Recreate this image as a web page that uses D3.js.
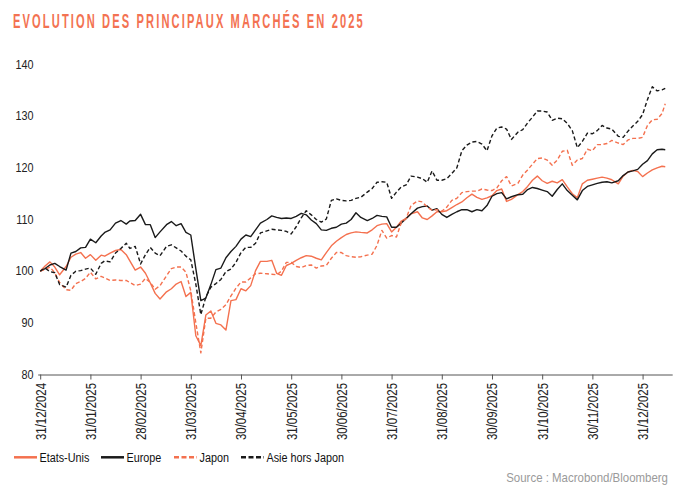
<!DOCTYPE html>
<html lang="fr">
<head>
<meta charset="UTF-8">
<title>Evolution des principaux marchés en 2025</title>
<script src="https://cdn.jsdelivr.net/npm/d3@7"></script>
<style>
  body { margin: 0; background: #fff; }
  #chart text { font-family: "Liberation Sans", Arial, sans-serif; }
</style>
</head>
<body>
<div id="chart"></div>
<script>
"use strict"

// dates of the sampled points (roughly every 3 days)
var dates = [
  "2024-12-31",
  "2025-01-03","2025-01-06","2025-01-09","2025-01-12","2025-01-16","2025-01-19","2025-01-22","2025-01-25","2025-01-28","2025-01-31",
  "2025-02-03","2025-02-06","2025-02-08","2025-02-11","2025-02-14","2025-02-17","2025-02-20","2025-02-22","2025-02-25","2025-02-28",
  "2025-03-03","2025-03-06","2025-03-09","2025-03-12","2025-03-16","2025-03-19","2025-03-22","2025-03-25","2025-03-28","2025-03-31",
  "2025-04-03","2025-04-06","2025-04-09","2025-04-12","2025-04-15","2025-04-18","2025-04-21","2025-04-24","2025-04-27","2025-04-30",
  "2025-05-03","2025-05-06","2025-05-09","2025-05-12","2025-05-16","2025-05-19","2025-05-22","2025-05-25","2025-05-28","2025-05-31",
  "2025-06-03","2025-06-06","2025-06-09","2025-06-12","2025-06-15","2025-06-18","2025-06-21","2025-06-24","2025-06-27","2025-06-30",
  "2025-07-03","2025-07-06","2025-07-09","2025-07-12","2025-07-16","2025-07-19","2025-07-22","2025-07-25","2025-07-28","2025-07-31",
  "2025-08-03","2025-08-06","2025-08-09","2025-08-12","2025-08-16","2025-08-19","2025-08-22","2025-08-25","2025-08-28","2025-08-31",
  "2025-09-03","2025-09-06","2025-09-09","2025-09-12","2025-09-15","2025-09-18","2025-09-21","2025-09-24","2025-09-27","2025-09-30",
  "2025-10-03","2025-10-06","2025-10-09","2025-10-12","2025-10-16","2025-10-19","2025-10-22","2025-10-25","2025-10-28","2025-10-31",
  "2025-11-03","2025-11-06","2025-11-09","2025-11-12","2025-11-15","2025-11-18","2025-11-21","2025-11-24","2025-11-27","2025-11-30",
  "2025-12-03","2025-12-06","2025-12-09","2025-12-12","2025-12-16","2025-12-19","2025-12-22","2025-12-25","2025-12-28","2025-12-31",
  "2026-01-03","2026-01-06","2026-01-09","2026-01-12","2026-01-14"
];

var etatsUnis = [
  100,
  101.0, 101.8, 100.8, 99.3, 100.9, 102.7, 103.3, 103.6, 102.5, 103.2,
  102.1, 103.1, 102.9, 103.5, 104.0, 104.2, 103.2, 102.0, 100.2, 100.8,
  99.6, 97.7, 95.7, 94.6, 96.0, 96.6, 97.5, 98.0, 95.1, 95.9,
  87.5, 85.6, 91.5, 92.3, 89.9, 89.6, 88.6, 94.3, 94.5, 96.6,
  96.2, 97.2, 100.1, 101.9, 101.9, 102.1, 99.6, 99.2, 101.1, 101.5,
  102.1, 102.6, 103.0, 102.9, 102.5, 102.2, 103.6, 104.9, 105.8, 106.5,
  107.1, 107.4, 107.6, 107.5, 107.4, 108.0, 108.8, 109.1, 109.2, 107.6,
  108.5, 109.7, 110.2, 111.1, 111.5, 110.3, 110.0, 110.7, 111.5, 111.5,
  111.7, 112.3, 112.9, 113.4, 114.2, 114.9, 114.3, 113.9, 114.2, 114.6,
  115.6, 115.9, 113.5, 113.9, 114.8, 115.4, 116.4, 117.6, 118.4, 117.5,
  117.0, 117.4, 117.1, 117.7, 116.3, 115.0, 114.2, 116.9, 117.6, 117.8,
  118.0, 118.2, 118.0, 117.7, 116.9, 118.4, 119.2, 119.5, 119.3, 118.3,
  119.0, 119.6, 120.0, 120.3, 120.2
];

var europe = [
  100,
  100.5, 101.2, 101.5, 100.9, 100.2, 103.5, 103.8, 104.5, 104.6, 106.2,
  105.5, 106.8, 107.5, 108.0, 109.3, 109.8, 109.1, 109.7, 109.8, 111.0,
  109.0, 109.0, 106.5, 107.6, 109.0, 109.6, 108.8, 109.2, 107.5, 107.0,
  100.5, 94.3, 94.8, 97.4, 100.3, 100.6, 102.6, 103.8, 104.8, 106.2,
  107.0, 106.7, 108.0, 109.3, 110.0, 110.7, 110.4, 110.2, 110.3, 110.2,
  110.6, 111.2, 110.9, 109.9, 109.2, 108.0, 107.9, 108.3, 108.5, 109.1,
  109.3, 110.0, 111.3, 110.4, 109.8, 110.2, 110.8, 110.6, 110.5, 108.5,
  108.5, 109.3, 110.2, 111.1, 112.2, 112.5, 112.6, 111.8, 112.1, 111.0,
  110.4, 111.0, 111.5, 111.9, 111.9, 111.5, 111.9, 111.7, 112.7, 114.5,
  115.0, 115.2, 114.0, 114.4, 114.8, 114.9, 115.8, 116.2, 116.0, 115.7,
  115.4, 114.5, 115.8, 116.9, 115.6, 114.7, 113.8, 115.6, 116.4, 116.7,
  117.0, 117.2, 117.3, 117.1, 117.5, 118.5, 119.2, 119.4, 119.7, 120.7,
  121.4, 122.7, 123.5, 123.6, 123.5
];

var japon = [
  100,
  100.3, 100.8, 99.7, 97.8, 96.4, 96.3, 97.6, 98.0, 98.6, 99.8,
  98.5, 99.0, 98.7, 98.2, 98.3, 98.2, 98.2, 97.8, 97.2, 97.5,
  98.6, 97.8, 96.5, 97.2, 99.1, 100.5, 100.8, 100.8, 99.8, 96.2,
  90.0, 84.2, 90.9, 90.9, 92.1, 92.6, 93.5, 95.2, 96.7, 97.9,
  97.9, 98.7, 99.5, 99.6, 99.5, 99.4, 99.3, 100.0, 101.7, 101.7,
  100.9, 100.7, 101.1, 101.2, 100.6, 101.0, 101.1, 102.5, 103.6, 103.6,
  103.0, 102.8, 102.7, 102.8, 103.1, 103.3, 105.0, 107.9, 106.4, 106.9,
  106.6, 109.4, 110.2, 112.7, 113.6, 113.4, 112.4, 111.8, 111.9, 111.6,
  112.4, 113.7, 114.1, 115.2, 115.4, 115.5, 115.5, 115.9, 115.7, 115.6,
  116.1, 117.5, 118.3, 116.5, 117.0, 118.6, 119.6, 120.7, 121.8, 121.9,
  121.5, 120.5, 121.5, 123.2, 123.4, 120.5, 121.5, 121.8, 123.6, 123.3,
  124.5, 124.5, 124.7, 125.3, 124.8, 124.5, 125.4, 125.7, 125.7, 125.9,
  128.2, 129.3, 129.4, 130.5, 132.4
];

var asieHorsJapon = [
  100,
  100.6, 99.9, 99.7, 97.4, 96.9, 99.2, 100.0, 100.1, 100.4, 100.6,
  99.4, 101.5, 102.0, 101.8, 103.5, 104.4, 105.4, 104.4, 104.8, 101.4,
  103.2, 104.6, 103.5, 103.0, 104.8, 105.1, 104.5, 103.9, 102.9, 102.2,
  97.5, 91.6, 95.0, 96.9, 97.6, 98.4, 99.9, 100.4, 101.7, 103.6,
  104.6, 104.6, 105.4, 107.4, 107.8, 108.1, 108.0, 107.9, 107.7, 107.2,
  108.6, 110.3, 111.7, 110.9, 110.0, 109.5, 110.1, 113.7, 114.0, 113.7,
  113.6, 113.7, 114.1, 114.3, 115.3, 116.0, 117.2, 117.3, 117.2, 114.1,
  115.3, 116.3, 116.7, 118.4, 118.2, 117.9, 117.2, 119.4, 117.6, 117.6,
  117.9, 118.9, 120.0, 123.3, 124.4, 125.0, 125.1, 124.6, 123.3, 126.2,
  127.7, 127.9, 127.5, 125.5, 126.9, 127.4, 128.7, 129.8, 131.0, 131.0,
  130.8, 129.2, 129.6, 129.5, 128.6, 127.2, 123.9, 125.1, 126.7, 126.6,
  127.2, 128.2, 127.7, 127.5, 126.1, 125.9, 127.1, 128.1, 129.0, 130.3,
  133.2, 135.7, 134.9, 135.1, 135.4
];

var tickLabels = ["31/12/2024", "31/01/2025", "28/02/2025", "31/03/2025", "30/04/2025", "31/05/2025",
  "30/06/2025", "31/07/2025", "31/08/2025", "30/09/2025", "31/10/2025", "30/11/2025", "31/12/2025"];
var yTicks = [80, 90, 100, 110, 120, 130, 140];

var orange = "#f4714f", noir = "#1a1a1a";

var series = [
  {nom: "Etats-Unis", valeurs: etatsUnis, cor: orange, dash: null},
  {nom: "Europe", valeurs: europe, cor: noir, dash: null},
  {nom: "Japon", valeurs: japon, cor: orange, dash: "4,2.5"},
  {nom: "Asie hors Japon", valeurs: asieHorsJapon, cor: noir, dash: "4,2.5"}
];

var width = 675, height = 488;
var parseDate = d3.timeParse("%Y-%m-%d");

// the axis is drawn in months: each month end is one unit
function monthIndex(d) {
  var nbDays = new Date(d.getFullYear(), d.getMonth() + 1, 0).getDate();
  return (d.getFullYear() - 2025) * 12 + d.getMonth() + d.getDate() / nbDays;
}

var x = d3.scaleLinear().domain([0, 12.6]).range([40.2, 672.7]);
var y = d3.scaleLinear().domain([80, 140]).range([374.5, 64.5]);

var svg = d3.select("#chart").append("svg")
  .attr("width", width)
  .attr("height", height);

// shrink text horizontally, to look like a narrow font
function condense(sel, factor) {
  sel.each(function() {
    var w = this.getComputedTextLength();
    d3.select(this).attr("textLength", w * factor).attr("lengthAdjust", "spacingAndGlyphs");
  });
}

// squeeze a text to a given width with a horizontal scale
function fitWidth(sel, px, py, target) {
  var w = sel.node().getBBox().width;
  sel.attr("transform", "translate(" + px + "," + py + ") scale(" + (target / w) + ",1)");
}

// title
var titre = svg.append("text")
  .attr("fill", "#f37252")
  .attr("font-size", 21)
  .attr("font-weight", "bold")
  .attr("letter-spacing", "4px")
  .text("EVOLUTION DES PRINCIPAUX MARCHÉS EN 2025");
fitWidth(titre, 13, 28.3, 352);

// y labels (no axis line)
var yLab = svg.append("g").selectAll("text")
  .data(yTicks)
  .enter()
  .append("text")
    .attr("x", 33.5)
    .attr("y", d => y(d) + 4.3)
    .attr("text-anchor", "end")
    .attr("font-size", 12)
    .attr("fill", "#222")
    .text(d => d);
condense(yLab, 0.9);

// x axis
var xAxis = svg.append("g")
  .attr("transform", "translate(0," + y(80) + ")")
  .call(d3.axisBottom(x)
    .tickValues(tickLabels.map((t, i) => i))
    .tickFormat((d, i) => tickLabels[i])
    .tickSize(5)
    .tickSizeOuter(0));

xAxis.select(".domain").attr("stroke", "#555").attr("d", "M" + (x(0) - 2) + ",0.5H" + x(12.6));
xAxis.selectAll(".tick line").attr("stroke", "#555");
xAxis.selectAll(".tick text")
  .attr("transform", "rotate(-90)")
  .attr("x", -8.5)
  .attr("y", 0)
  .attr("dy", "0.35em")
  .attr("text-anchor", "end")
  .attr("font-size", 14)
  .attr("font-family", "Liberation Sans, Arial, sans-serif")
  .attr("fill", "#222")
  .attr("textLength", 57)
  .attr("lengthAdjust", "spacingAndGlyphs");

// lines
var line = d3.line()
  .x((v, i) => x(monthIndex(parseDate(dates[i]))))
  .y(v => y(v));

svg.append("g").selectAll("path")
  .data(series)
  .enter()
  .append("path")
    .attr("d", d => line(d.valeurs))
    .attr("fill", "none")
    .attr("stroke", d => d.cor)
    .attr("stroke-width", 1.4)
    .attr("stroke-linejoin", "round")
    .attr("stroke-dasharray", d => d.dash);

// legend
var legendX = [14, 101, 174, 241];
var legend = svg.append("g").selectAll("g")
  .data(series)
  .enter()
  .append("g")
    .attr("transform", (d, i) => "translate(" + legendX[i] + ",457.3)");

legend.append("line")
  .attr("x1", 0).attr("x2", 23)
  .attr("stroke", d => d.cor)
  .attr("stroke-width", 2.5)
  .attr("stroke-dasharray", d => d.dash ? "5,2.5" : null);

var legText = legend.append("text")
  .attr("x", 25.5)
  .attr("y", 4.3)
  .attr("font-size", 12)
  .attr("fill", "#111")
  .text(d => d.nom);
condense(legText, 0.9);

// source
var source = svg.append("text")
  .attr("text-anchor", "end")
  .attr("font-size", 12.5)
  .attr("fill", "#9a9a9a")
  .text("Source : Macrobond/Bloomberg");
fitWidth(source, 668, 482, 162);
</script>
</body>
</html>
